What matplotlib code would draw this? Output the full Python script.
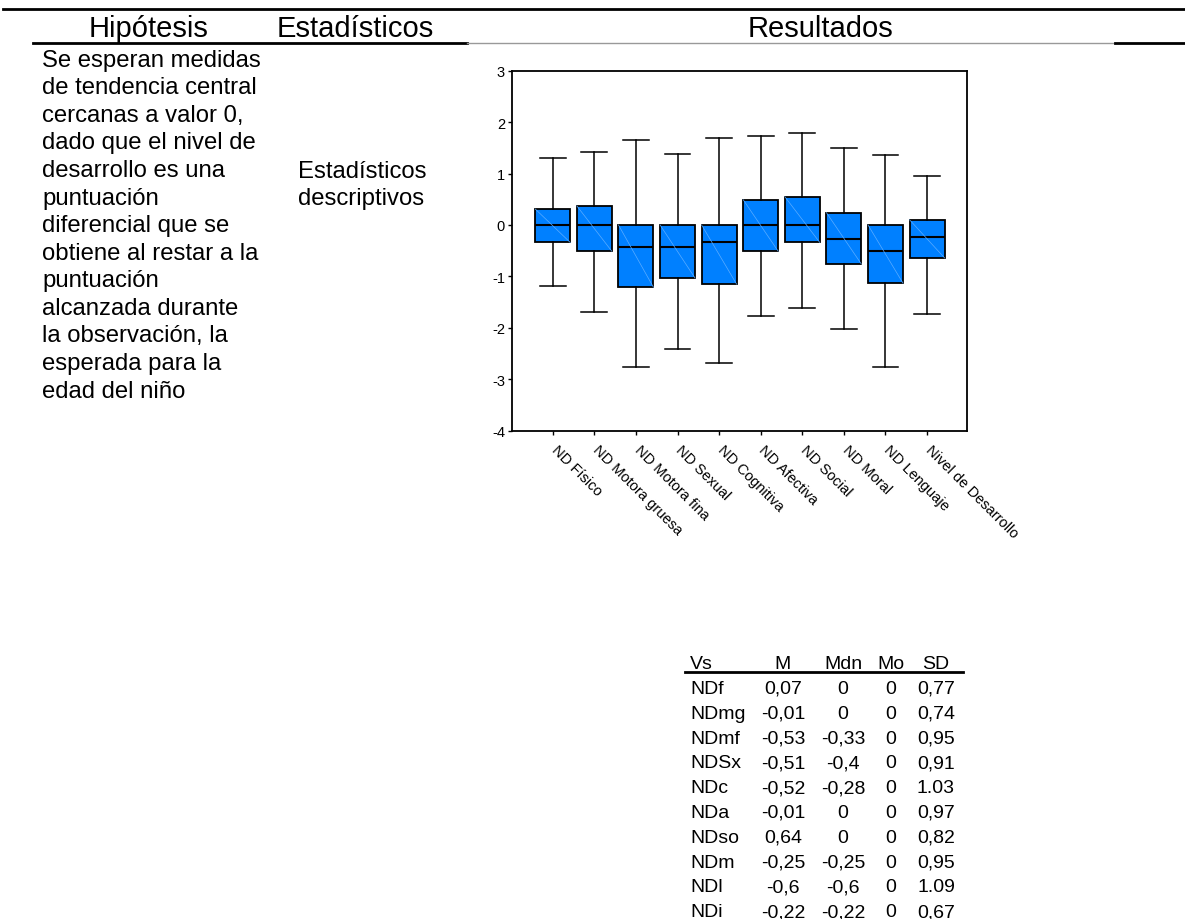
import matplotlib
matplotlib.use('Agg')
import matplotlib.pyplot as plt
import matplotlib.transforms as mtransforms
from matplotlib.lines import Line2D

plt.rcParams['font.family'] = ['Liberation Sans', 'DejaVu Sans']
plt.rcParams['axes.unicode_minus'] = False

# --- data -------------------------------------------------------------
categories = ['ND Físico', 'ND Motora gruesa', 'ND Motora fina', 'ND Sexual',
              'ND Cognitiva', 'ND Afectiva', 'ND Social', 'ND Moral',
              'ND Lenguaje', 'Nivel de Desarrollo']
whisker_hi = [1.31, 1.42, 1.65, 1.39, 1.70, 1.73, 1.79, 1.49, 1.36, 0.95]
q3 = [0.31, 0.37, 0.0, 0.0, 0.0, 0.49, 0.55, 0.24, 0.0, 0.10]
medians = [0.0, 0.0, -0.42, -0.42, -0.34, 0.0, 0.0, -0.27, -0.51, -0.24]
q1 = [-0.34, -0.51, -1.21, -1.03, -1.15, -0.51, -0.34, -0.76, -1.13, -0.64]
whisker_lo = [-1.18, -1.69, -2.76, -2.42, -2.68, -1.76, -1.61, -2.03, -2.76, -1.74]
y_ticks = [3, 2, 1, 0, -1, -2, -3, -4]

table_header = ['Vs', 'M', 'Mdn', 'Mo', 'SD']
vs_names = ['NDf', 'NDmg', 'NDmf', 'NDSx', 'NDc', 'NDa', 'NDso', 'NDm', 'NDl', 'NDi']
mean_vals = ['0,07', '-0,01', '-0,53', '-0,51', '-0,52', '-0,01', '0,64', '-0,25', '-0,6', '-0,22']
mdn_vals = ['0', '0', '-0,33', '-0,4', '-0,28', '0', '0', '-0,25', '-0,6', '-0,22']
mo_vals = ['0', '0', '0', '0', '0', '0', '0', '0', '0', '0']
sd_vals = ['0,77', '0,74', '0,95', '0,91', '1.03', '0,97', '0,82', '0,95', '1.09', '0,67']

header_cols = ['Hipótesis', 'Estadísticos', 'Resultados']
hypothesis_lines = ['Se esperan medidas', 'de tendencia central', 'cercanas a valor 0,',
                    'dado que el nivel de', 'desarrollo es una', 'puntuación',
                    'diferencial que se', 'obtiene al restar a la', 'puntuación',
                    'alcanzada durante', 'la observación, la', 'esperada para la',
                    'edad del niño']
stat_lines = ['Estadísticos', 'descriptivos']

# --- layout helpers (pixels -> figure fraction) -----------------------
W, H = 1185, 920


def fx(px):
    return px / W


def fy(py):
    return 1 - py / H


fig = plt.figure(figsize=(W / 100, H / 100), dpi=100)
fig.patch.set_facecolor('white')

# header rules
fig.add_artist(Line2D([fx(3), fx(1185)], [fy(10), fy(10)], color='black', lw=2))
fig.add_artist(Line2D([fx(33), fx(467)], [fy(44), fy(44)], color='black', lw=2))
fig.add_artist(Line2D([fx(467), fx(1115)], [fy(44), fy(44)], color='#999999', lw=1))
fig.add_artist(Line2D([fx(1115), fx(1185)], [fy(44), fy(44)], color='black', lw=2))

# header titles
for label, cx in zip(header_cols, [149, 355, 820]):
    fig.text(fx(cx), fy(37), label, ha='center', va='baseline', fontsize=21)

# hypothesis column
for i, line in enumerate(hypothesis_lines):
    fig.text(fx(42), fy(66.5 + i * 27.6), line, ha='left', va='baseline', fontsize=17.2)

# statistics column
for i, line in enumerate(stat_lines):
    fig.text(fx(298), fy(177.7 + i * 27.6), line, ha='left', va='baseline', fontsize=17.2)

# --- boxplot ----------------------------------------------------------
ax = fig.add_axes([fx(512), fy(431.7), fx(967) - fx(512), fy(71.7) - fy(431.7)])
positions = list(range(1, len(categories) + 1))
stats = []
for lab, lo, a, m, b, hi in zip(categories, whisker_lo, q1, medians, q3, whisker_hi):
    stats.append({'label': lab, 'whislo': lo, 'q1': a, 'med': m, 'q3': b, 'whishi': hi})

box_w = 0.84
ax.bxp(stats, positions=positions, widths=box_w, showfliers=False, patch_artist=True,
       boxprops=dict(facecolor='#0080ff', edgecolor='black', linewidth=1.3),
       medianprops=dict(color='black', linewidth=1.5),
       whiskerprops=dict(color='black', linewidth=1.1),
       capprops=dict(color='black', linewidth=1.1),
       capwidths=0.62)

# faint diagonal inside each box
for p, a, b in zip(positions, q1, q3):
    ax.plot([p - box_w / 2, p + box_w / 2], [b, a], color='#5cadff', lw=0.5, zorder=3)

ax.set_xlim(0.02, 10.96)
ax.set_ylim(-4, 3)
ax.set_yticks(y_ticks)
ax.set_yticklabels([str(t) for t in y_ticks], fontsize=10.5)
ax.set_xticks(positions)
ax.set_xticklabels(categories, rotation=-45, ha='left', va='top',
                   rotation_mode='anchor', fontsize=10.5)
ax.tick_params(axis='y', direction='out', length=3, width=1, pad=2)
ax.tick_params(axis='x', direction='out', length=3, width=1, pad=5)
shift = mtransforms.ScaledTranslation(4 / 72, 0, fig.dpi_scale_trans)
for lbl in ax.get_xticklabels():
    lbl.set_transform(lbl.get_transform() + shift)
for s in ax.spines.values():
    s.set_linewidth(1.3)

# --- summary table ----------------------------------------------------
col_x = [690, 783, 843, 891, 936]
col_ha = ['left', 'center', 'center', 'center', 'center']
for label, x, ha in zip(table_header, col_x, col_ha):
    fig.text(fx(x), fy(669), label, ha=ha, va='baseline', fontsize=14)
fig.add_artist(Line2D([fx(685), fx(963)], [fy(673), fy(673)], color='black', lw=2))

rows = zip(vs_names, mean_vals, mdn_vals, mo_vals, sd_vals)
for i, row in enumerate(rows):
    for val, x, ha in zip(row, col_x, col_ha):
        fig.text(fx(x), fy(694 + i * 24.8), val, ha=ha, va='baseline', fontsize=14)

fig.savefig('out.png', dpi=100)
